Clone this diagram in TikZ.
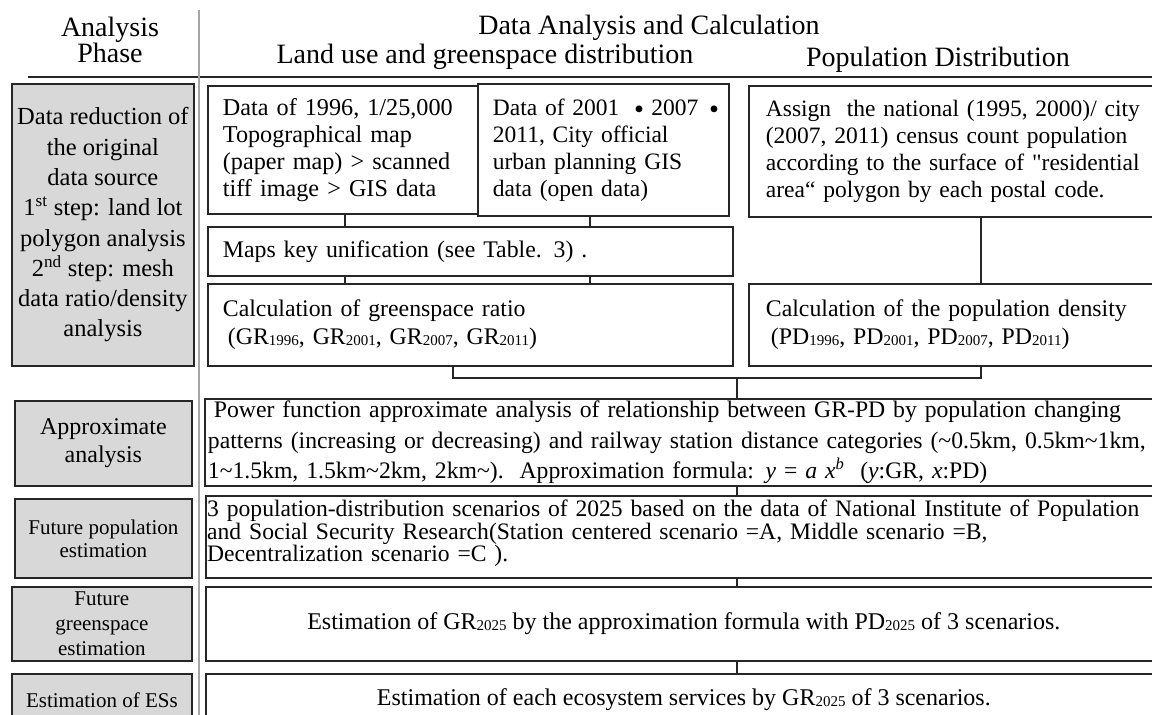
\documentclass[tikz,border=0pt]{standalone}
\usepackage{fontspec}
\setmainfont{Liberation Serif}
\newfontfamily\cjk{Noto Sans CJK JP}
\usetikzlibrary{calc}
\definecolor{edge}{RGB}{38,38,38}
\definecolor{phasefill}{RGB}{216,216,216}
\definecolor{divider}{RGB}{165,165,165}
% small digits set on the baseline (GR1996, PD2025, ...)
\newcommand\lowsub[1]{\raisebox{-1pt}{\fontsize{15}{15}\selectfont #1}}
\newcommand\fs[2]{\fontsize{#1}{#2}\selectfont}
% full-width middle dot between the years
\newcommand\jdot{\makebox[24pt]{\raisebox{-6pt}{\fontsize{32}{32}\cjk ・}}}
\begin{document}
\begin{tikzpicture}[x=1pt,y=-1pt,
  phase/.style={draw=edge, fill=phasefill, line width=1.8pt, inner sep=0pt,
                align=center, anchor=north west},
  box/.style={draw=edge, fill=white, line width=1.8pt, inner sep=0pt,
              align=left, anchor=north west},
  link/.style={draw=edge, line width=1.6pt},
  title/.style={inner sep=0pt, font=\fs{28}{26}, align=center},
  txt/.style={inner sep=0pt, align=left, anchor=north west},
]
\useasboundingbox (0,0) rectangle (1152,715);
\clip (0,0) rectangle (1152,715);
\hyphenpenalty=10000

% ---------- header ----------
\node[title] (hPhase) at (110,40) {Analysis\\Phase};
\node[title] (hMain) at (649,28) {Data Analysis and Calculation};
\node[title] (hLand) at (485,57) {Land use and greenspace distribution};
\node[title] (hPop) at (938,60) {Population Distribution};
\coordinate (ruleL) at (28,77);
\coordinate (ruleR) at (1160,77);
\draw[edge, line width=1.5pt] (ruleL) -- (ruleR);
\coordinate (divT) at (199,10);
\coordinate (divB) at (199,720);
\draw[divider, line width=2.2pt] (divT) -- (divB);

% ---------- analysis phases (left column) ----------
\node[phase, minimum width=182, minimum height=282, font=\fs{24.5}{30.3}] (pData) at (11,83)
  {Data reduction of\\the original\\data source\\1\textsuperscript{st} step: land lot\\polygon analysis\\2\textsuperscript{nd} step: mesh\\data ratio/density\\analysis};
\node[phase, minimum width=177, minimum height=85, font=\fs{24}{28}] (pApprox) at (14,400)
  {Approximate\\analysis};
\node[phase, minimum width=177, minimum height=79, font=\fs{21}{23}] (pFuture) at (14,498)
  {Future population\\estimation};
\node[phase, minimum width=180, minimum height=74, font=\fs{21}{25}] (pGreen) at (11,586)
  {Future\\greenspace\\estimation};
\node[phase, minimum width=180, minimum height=52, font=\fs{21}{25}] (pES) at (11,673)
  {Estimation of ESs};

% ---------- data analysis and calculation (right column) ----------
\node[box, minimum width=263, minimum height=128, text width=240, inner xsep=15pt,
      font=\fs{24.2}{27}] (bA) at (207,85)
  {Data of 1996, 1/25,000\\Topographical map\\(paper map) > scanned\\tiff image > GIS data};
\node[box, minimum width=251, minimum height=132, text width=221, inner xsep=15pt,
      font=\fs{23.5}{27}] (bB) at (477,83)
  {\mbox{Data of 2001 \jdot 2007\,\jdot}\\2011, City official\\urban planning GIS\\data (open data)};
\node[box, minimum width=412, minimum height=131, text width=390, inner xsep=17pt,
      font=\fs{23.5}{27}] (bC) at (748,85)
  {Assign\ \ the national (1995, 2000)/ city\\(2007, 2011) census count population\\according to the surface of \textquotedbl residential\\area“ polygon by each postal code.};
\node[box, minimum width=521, minimum height=49, text width=495, inner xsep=15pt,
      font=\fs{23.8}{27}] (bMaps) at (207,226)
  {Maps key unification (see Table. 3) .};
\node[box, minimum width=521, minimum height=82, text width=495, inner xsep=15pt,
      font=\fs{23.8}{28}] (bGR) at (207,283)
  {Calculation of greenspace ratio\\\hspace*{5pt}(GR\lowsub{1996}, GR\lowsub{2001}, GR\lowsub{2007}, GR\lowsub{2011})};
\node[box, minimum width=412, minimum height=82, text width=380, inner xsep=17pt,
      font=\fs{23.8}{28}] (bPD) at (748,283)
  {Calculation of the population density\\\hspace*{5pt}(PD\lowsub{1996}, PD\lowsub{2001}, PD\lowsub{2007}, PD\lowsub{2011})};
\node[box, minimum width=956, minimum height=87, text width=995, inner xsep=3pt,
      font=\fs{23.7}{30.5}] (bPower) at (204,398)
  {\hspace*{6pt}Power function approximate analysis of relationship between GR-PD by population changing\\patterns (increasing or decreasing) and railway station distance categories (\textasciitilde0.5km, 0.5km\textasciitilde1km,\\1\textasciitilde1.5km, 1.5km\textasciitilde2km, 2km\textasciitilde).\ \ Approximation formula: \textit{y} = \textit{a x}\textsuperscript{\textit{b}}\ \ (\textit{y}:GR, \textit{x}:PD)};
\node[box, minimum width=956, minimum height=82] (bFuture) at (205,495) {};
\node[txt, text width=990, font=\fs{23.6}{16.8}] (tFuture) at (207,500)
  {3 population-distribution scenarios of 2025 based on the data of National Institute of Population\\and Social Security Research(Station centered scenario =A, Middle scenario =B,\\Decentralization scenario =C ).};
\node[box, align=center, minimum width=956, minimum height=74, font=\fs{24}{27}] (bGreen) at (205,586)
  {Estimation of GR\lowsub{2025} by the approximation formula with PD\lowsub{2025} of 3 scenarios.};
\node[box, align=center, minimum width=956, minimum height=52, font=\fs{24}{27}] (bES) at (205,673)
  {Estimation of each ecosystem services by GR\lowsub{2025} of 3 scenarios.};

% ---------- connectors ----------
\coordinate (xA) at (345,0);
\coordinate (xB) at (590,0);
\coordinate (xC) at (981,0);
\coordinate (xL) at (453,0);
\coordinate (jn) at (737,378);
\draw[link] (bA.south -| xA) -- (bMaps.north -| xA);
\draw[link] (bB.south -| xB) -- (bMaps.north -| xB);
\draw[link] (bMaps.south -| xA) -- (bGR.north -| xA);
\draw[link] (bMaps.south -| xB) -- (bGR.north -| xB);
\draw[link] (bC.south -| xC) -- (bPD.north -| xC);
\draw[link] (bGR.south -| xL) |- (jn) -| (bPD.south -| xC);
\draw[link] (jn) -- (bPower.north -| jn);
\draw[link] (bPower.south -| jn) -- (bFuture.north -| jn);
\draw[link] (bFuture.south -| jn) -- (bGreen.north -| jn);
\draw[link] (bGreen.south -| jn) -- (bES.north -| jn);
\end{tikzpicture}
\end{document}
